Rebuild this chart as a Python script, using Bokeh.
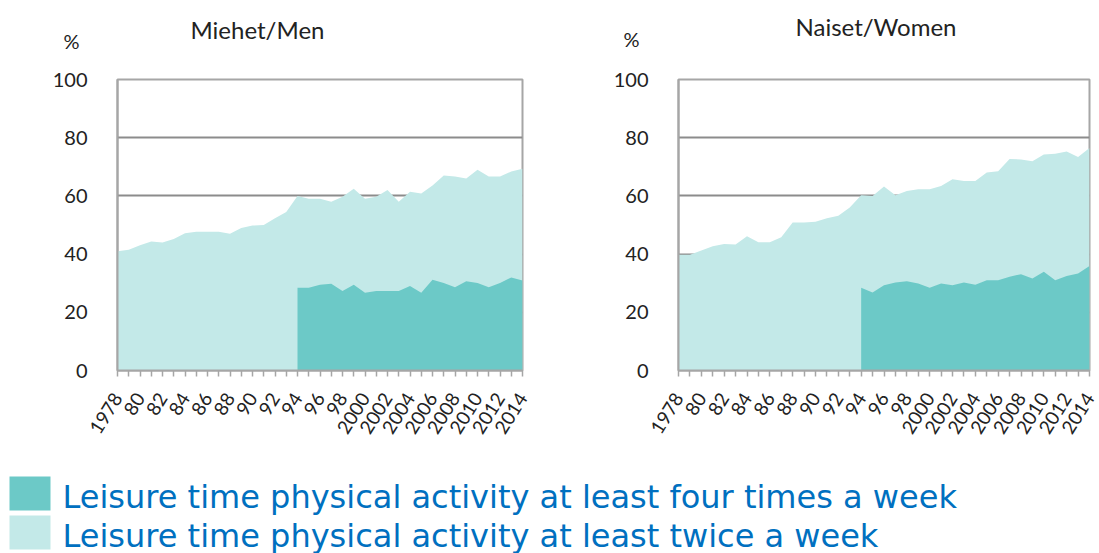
import math
from bokeh.plotting import figure
from bokeh.models import Range1d, FixedTicker
from bokeh.layouts import column, row
from bokeh.embed import file_html
from bokeh.resources import INLINE
from bokeh.core.properties import value

# ---------------- data ----------------
years = list(range(1978, 2015))
years_4x = list(range(1994, 2015))

men_twice = [41, 41.5, 43, 44.3, 44, 45.2, 47.2, 47.7, 47.7, 47.7, 47, 49, 49.8, 50,
             52.3, 54.5, 60, 59, 59, 58, 59.7, 62.5, 59, 59.7, 62, 58, 61.4, 60.8,
             63.6, 67, 66.7, 66, 69, 66.7, 66.7, 68.4, 69.3]
men_4x = [28.4, 28.4, 29.5, 29.8, 27.3, 29.5, 26.7, 27.3, 27.3, 27.3, 29, 26.7, 31.2,
          30.1, 28.6, 30.7, 30.1, 28.6, 30.1, 32, 30.9]

women_twice = [39.8, 39.8, 41.25, 42.7, 43.5, 43.3, 46.1, 44.1, 44.1, 45.8, 50.9, 50.9,
               51.1, 52.3, 53.2, 56, 60.2, 60, 63.2, 60.2, 61.7, 62.3, 62.3, 63.4, 65.7,
               65.1, 65.1, 68, 68.5, 72.7, 72.5, 71.9, 74.2, 74.5, 75.3, 73.4, 76.5]
women_4x = [28.4, 26.8, 29.3, 30.2, 30.7, 29.9, 28.4, 29.9, 29.3, 30.2, 29.5, 31, 31,
            32.2, 33.1, 31.6, 33.9, 31, 32.5, 33.3, 35.9]

label_years = list(range(1978, 2015, 2))
label_texts = ["1978", "80", "82", "84", "86", "88", "90", "92", "94", "96", "98",
               "2000", "2002", "2004", "2006", "2008", "2010", "2012", "2014"]
y_ticks = [0, 20, 40, 60, 80, 100]

titles = ["Miehet/Men", "Naiset/Women"]
unit_label = "%"
legend_labels = ["Leisure time physical activity at least four times a week",
                 "Leisure time physical activity at least twice a week"]

DARK = "#6CC9C7"
LIGHT = "#C3E9E8"
TEXT = "#222222"
GRAY = "#A6A6A6"
FONT = "Lato"


def strip(width, height):
    f = figure(width=width, height=height, x_range=Range1d(0, width), y_range=Range1d(height, 0),
               output_backend="svg", toolbar_location=None, tools="",
               x_axis_type=None, y_axis_type=None,
               min_border_left=0, min_border_right=0, min_border_top=0, min_border_bottom=0)
    f.outline_line_color = None
    f.grid.visible = False
    return f


def make_panel(twice, four, width, height, bl, br, bt, bb):
    p = figure(width=width, height=height, x_range=Range1d(1978, 2014), y_range=Range1d(0, 100),
               output_backend="svg", toolbar_location=None, tools="",
               min_border_left=bl, min_border_right=br, min_border_top=bt, min_border_bottom=bb)
    p.outline_line_color = GRAY
    p.outline_line_width = 2
    p.background_fill_color = "white"
    p.border_fill_color = "white"

    p.varea(x=years, y1=0, y2=twice, fill_color=LIGHT)
    p.varea(x=years_4x, y1=0, y2=four, fill_color=DARK)

    p.xgrid.visible = False
    p.ygrid.ticker = FixedTicker(ticks=y_ticks)
    p.ygrid.grid_line_color = "#8C8C8C"
    p.ygrid.grid_line_width = 1.8

    ya = p.yaxis[0]
    ya.ticker = FixedTicker(ticks=y_ticks)
    ya.major_tick_line_color = None
    ya.minor_tick_line_color = None
    ya.axis_line_color = GRAY
    ya.axis_line_width = 2
    ya.major_label_standoff = 24
    ya.major_label_text_font = FONT
    ya.major_label_text_font_size = "20px"
    ya.major_label_text_color = TEXT

    xa = p.xaxis[0]
    xa.ticker = FixedTicker(ticks=years)
    xa.major_tick_in = 0
    xa.major_tick_out = 6
    xa.major_tick_line_color = GRAY
    xa.major_tick_line_width = 1.5
    xa.minor_tick_line_color = None
    xa.axis_line_color = GRAY
    xa.axis_line_width = 2
    overrides = {y: "" for y in years}
    for yv, t in zip(label_years, label_texts):
        overrides[yv] = t
    xa.major_label_overrides = overrides
    xa.major_label_orientation = math.radians(58)
    xa.major_label_standoff = 18
    xa.major_label_text_font = FONT
    xa.major_label_text_font_size = "19px"
    xa.major_label_text_color = TEXT
    return p


# header strip with panel titles and unit labels
top = strip(1099, 62)
top.text(x=[190, 795], y=[29, 26], text=titles, text_font=value(FONT),
         text_font_size="24px", text_color=TEXT, text_baseline="alphabetic")
top.text(x=[63, 623], y=[40, 38], text=[unit_label, unit_label], text_font=value(FONT),
         text_font_size="20px", text_color=TEXT, text_baseline="alphabetic")

left = make_panel(men_twice, men_4x, 560, 403, 117, 38, 15, 95)
right = make_panel(women_twice, women_4x, 539, 403, 118, 10, 17, 92)

# legend strip
leg = strip(1099, 88)
leg_tops = [11, 50]
leg.quad(left=9, right=50, top=leg_tops, bottom=[t + 34 for t in leg_tops],
         fill_color=[DARK, LIGHT], line_color=None)
leg.text(x=62, y=[t + 20 for t in leg_tops], text=legend_labels,
         text_font=value("DejaVu Sans"), text_font_size="32px", text_color="#0070C0",
         text_baseline="alphabetic")

layout = column(top, row(left, right), leg)
open("out.html", "w").write(file_html(layout, INLINE))
